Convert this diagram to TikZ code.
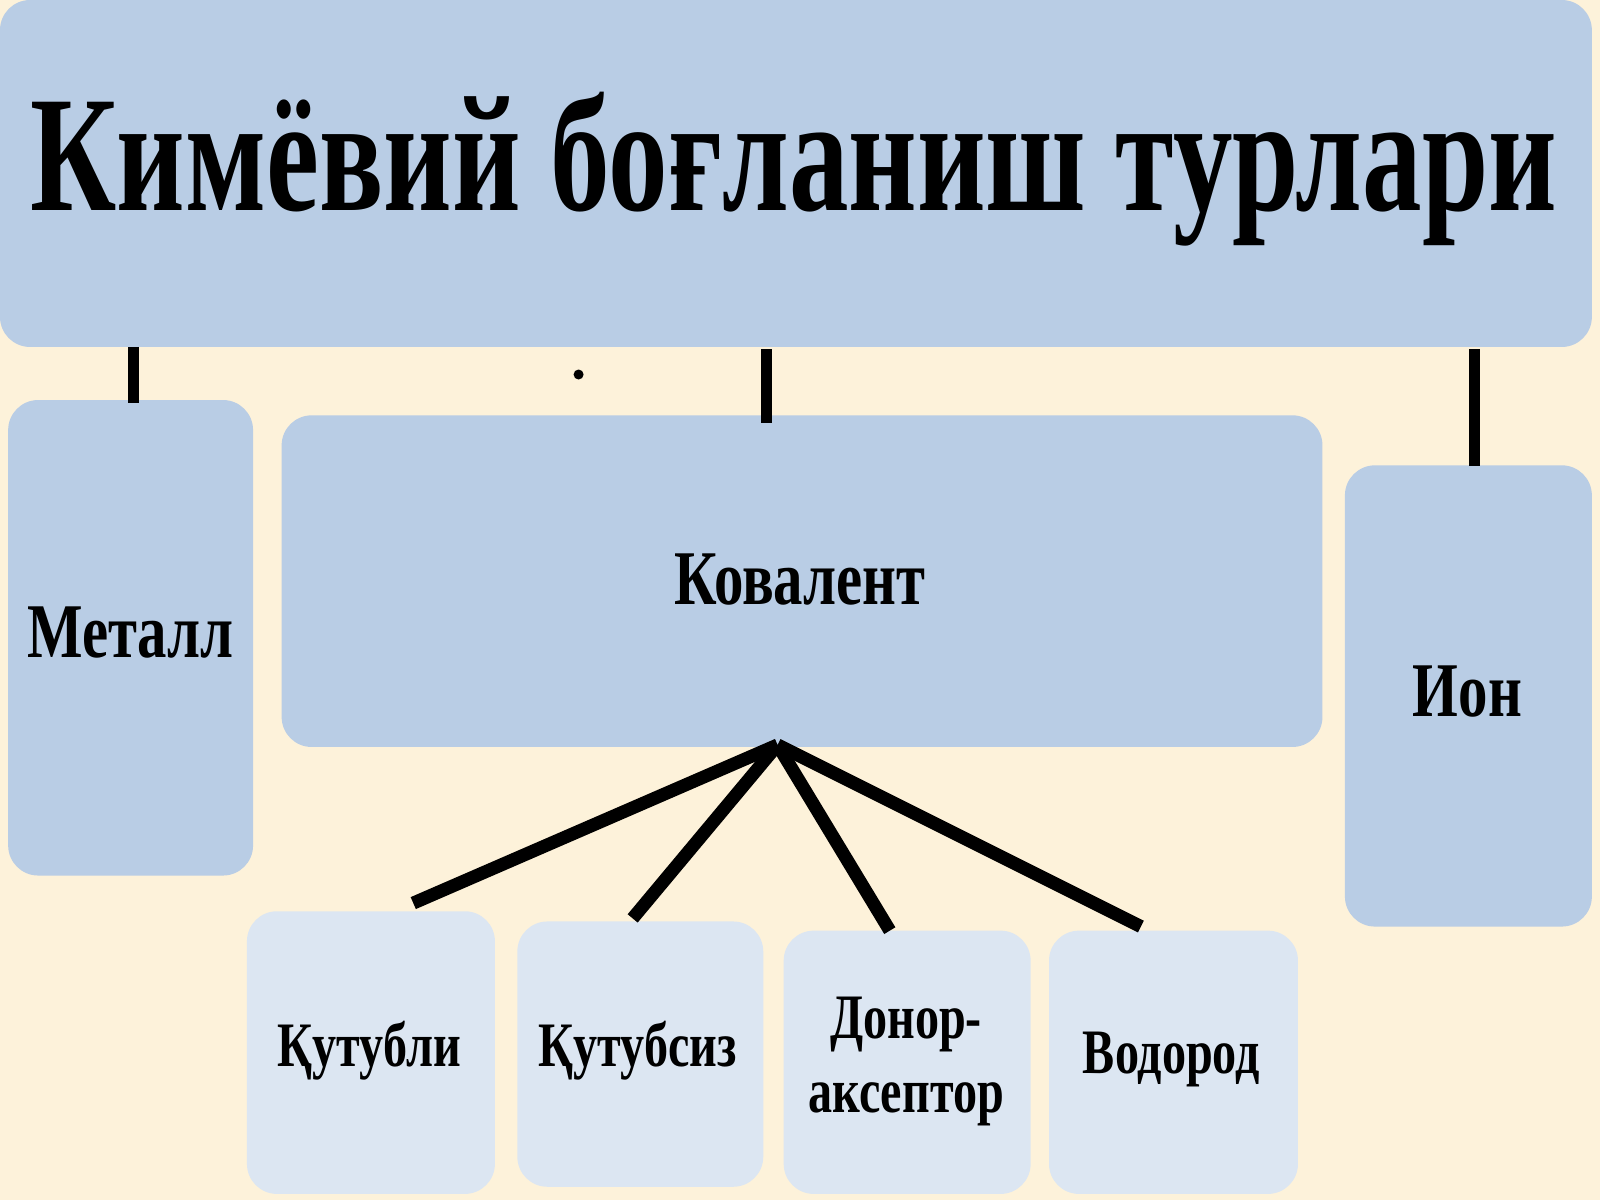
\documentclass[tikz,border=0pt]{standalone}
\usepackage{fontspec}
\newfontfamily\cond[FakeStretch=0.76]{Liberation Serif}
\newfontfamily\tcond[FakeStretch=0.72]{Liberation Serif}
\definecolor{bg}{HTML}{FDF2DA}
\definecolor{boxa}{HTML}{B9CDE5}
\definecolor{boxb}{HTML}{DCE6F2}
\begin{document}
\begin{tikzpicture}[x=0.0102cm,y=-0.0102cm,
  bx/.style={fill=boxa,draw=none,rounded corners=0.3cm},
  by/.style={fill=boxb,draw=none,rounded corners=0.3cm},
  lab/.style={font=\cond\bfseries\fontsize{22}{25}\selectfont,align=center},
  slab/.style={font=\cond\bfseries\fontsize{18}{21}\selectfont,align=center},
  ln/.style={line width=1.3mm,black}]
\fill[bg] (0,0) rectangle (1568,1176);
\useasboundingbox (0,0) rectangle (1568,1176);
\filldraw[bx] (0,0) rectangle (1560,340);
\node[font=\tcond\bfseries\fontsize{47}{52}\selectfont] (t) at (778,166) {Кимёвий боғланиш турлари};
\filldraw[bx] (8,392) rectangle (248,858);
\node[lab] (m) at (128,620) {Металл};
\filldraw[bx] (276,407) rectangle (1296,732);
\node[lab] (k) at (784,568) {Ковалент};
\filldraw[bx] (1318,456) rectangle (1560,908);
\node[lab] (i) at (1438,678) {Ион};
\filldraw[by] (242,893) rectangle (485,1170);
\node[slab] (b1) at (362,1030) {Қутубли};
\filldraw[by] (507,903) rectangle (748,1163);
\node[slab] (b2) at (625,1030) {Қутубсиз};
\filldraw[by] (768,912) rectangle (1010,1170);
\node[slab] (b3) at (888,1040) {Донор-\\аксептор};
\filldraw[by] (1028,912) rectangle (1272,1170);
\node[slab] (b4) at (1148,1038) {Водород};
\coordinate (h) at (762,730);
\coordinate (e1) at (405,885);
\coordinate (e2) at (620,900);
\coordinate (e3) at (872,912);
\coordinate (e4) at (1118,908);
\foreach \e in {e1,e2,e3,e4} \draw[ln] (h) -- (\e);
\coordinate (a1) at (131,340); \coordinate (a2) at (131,395);
\coordinate (c1) at (751,342); \coordinate (c2) at (751,415);
\coordinate (d1) at (1445,342); \coordinate (d2) at (1445,457);
\draw[line width=1.1mm] (a1)--(a2) (c1)--(c2) (d1)--(d2);
\fill (567,367) circle (0.05cm);
\end{tikzpicture}
\end{document}
